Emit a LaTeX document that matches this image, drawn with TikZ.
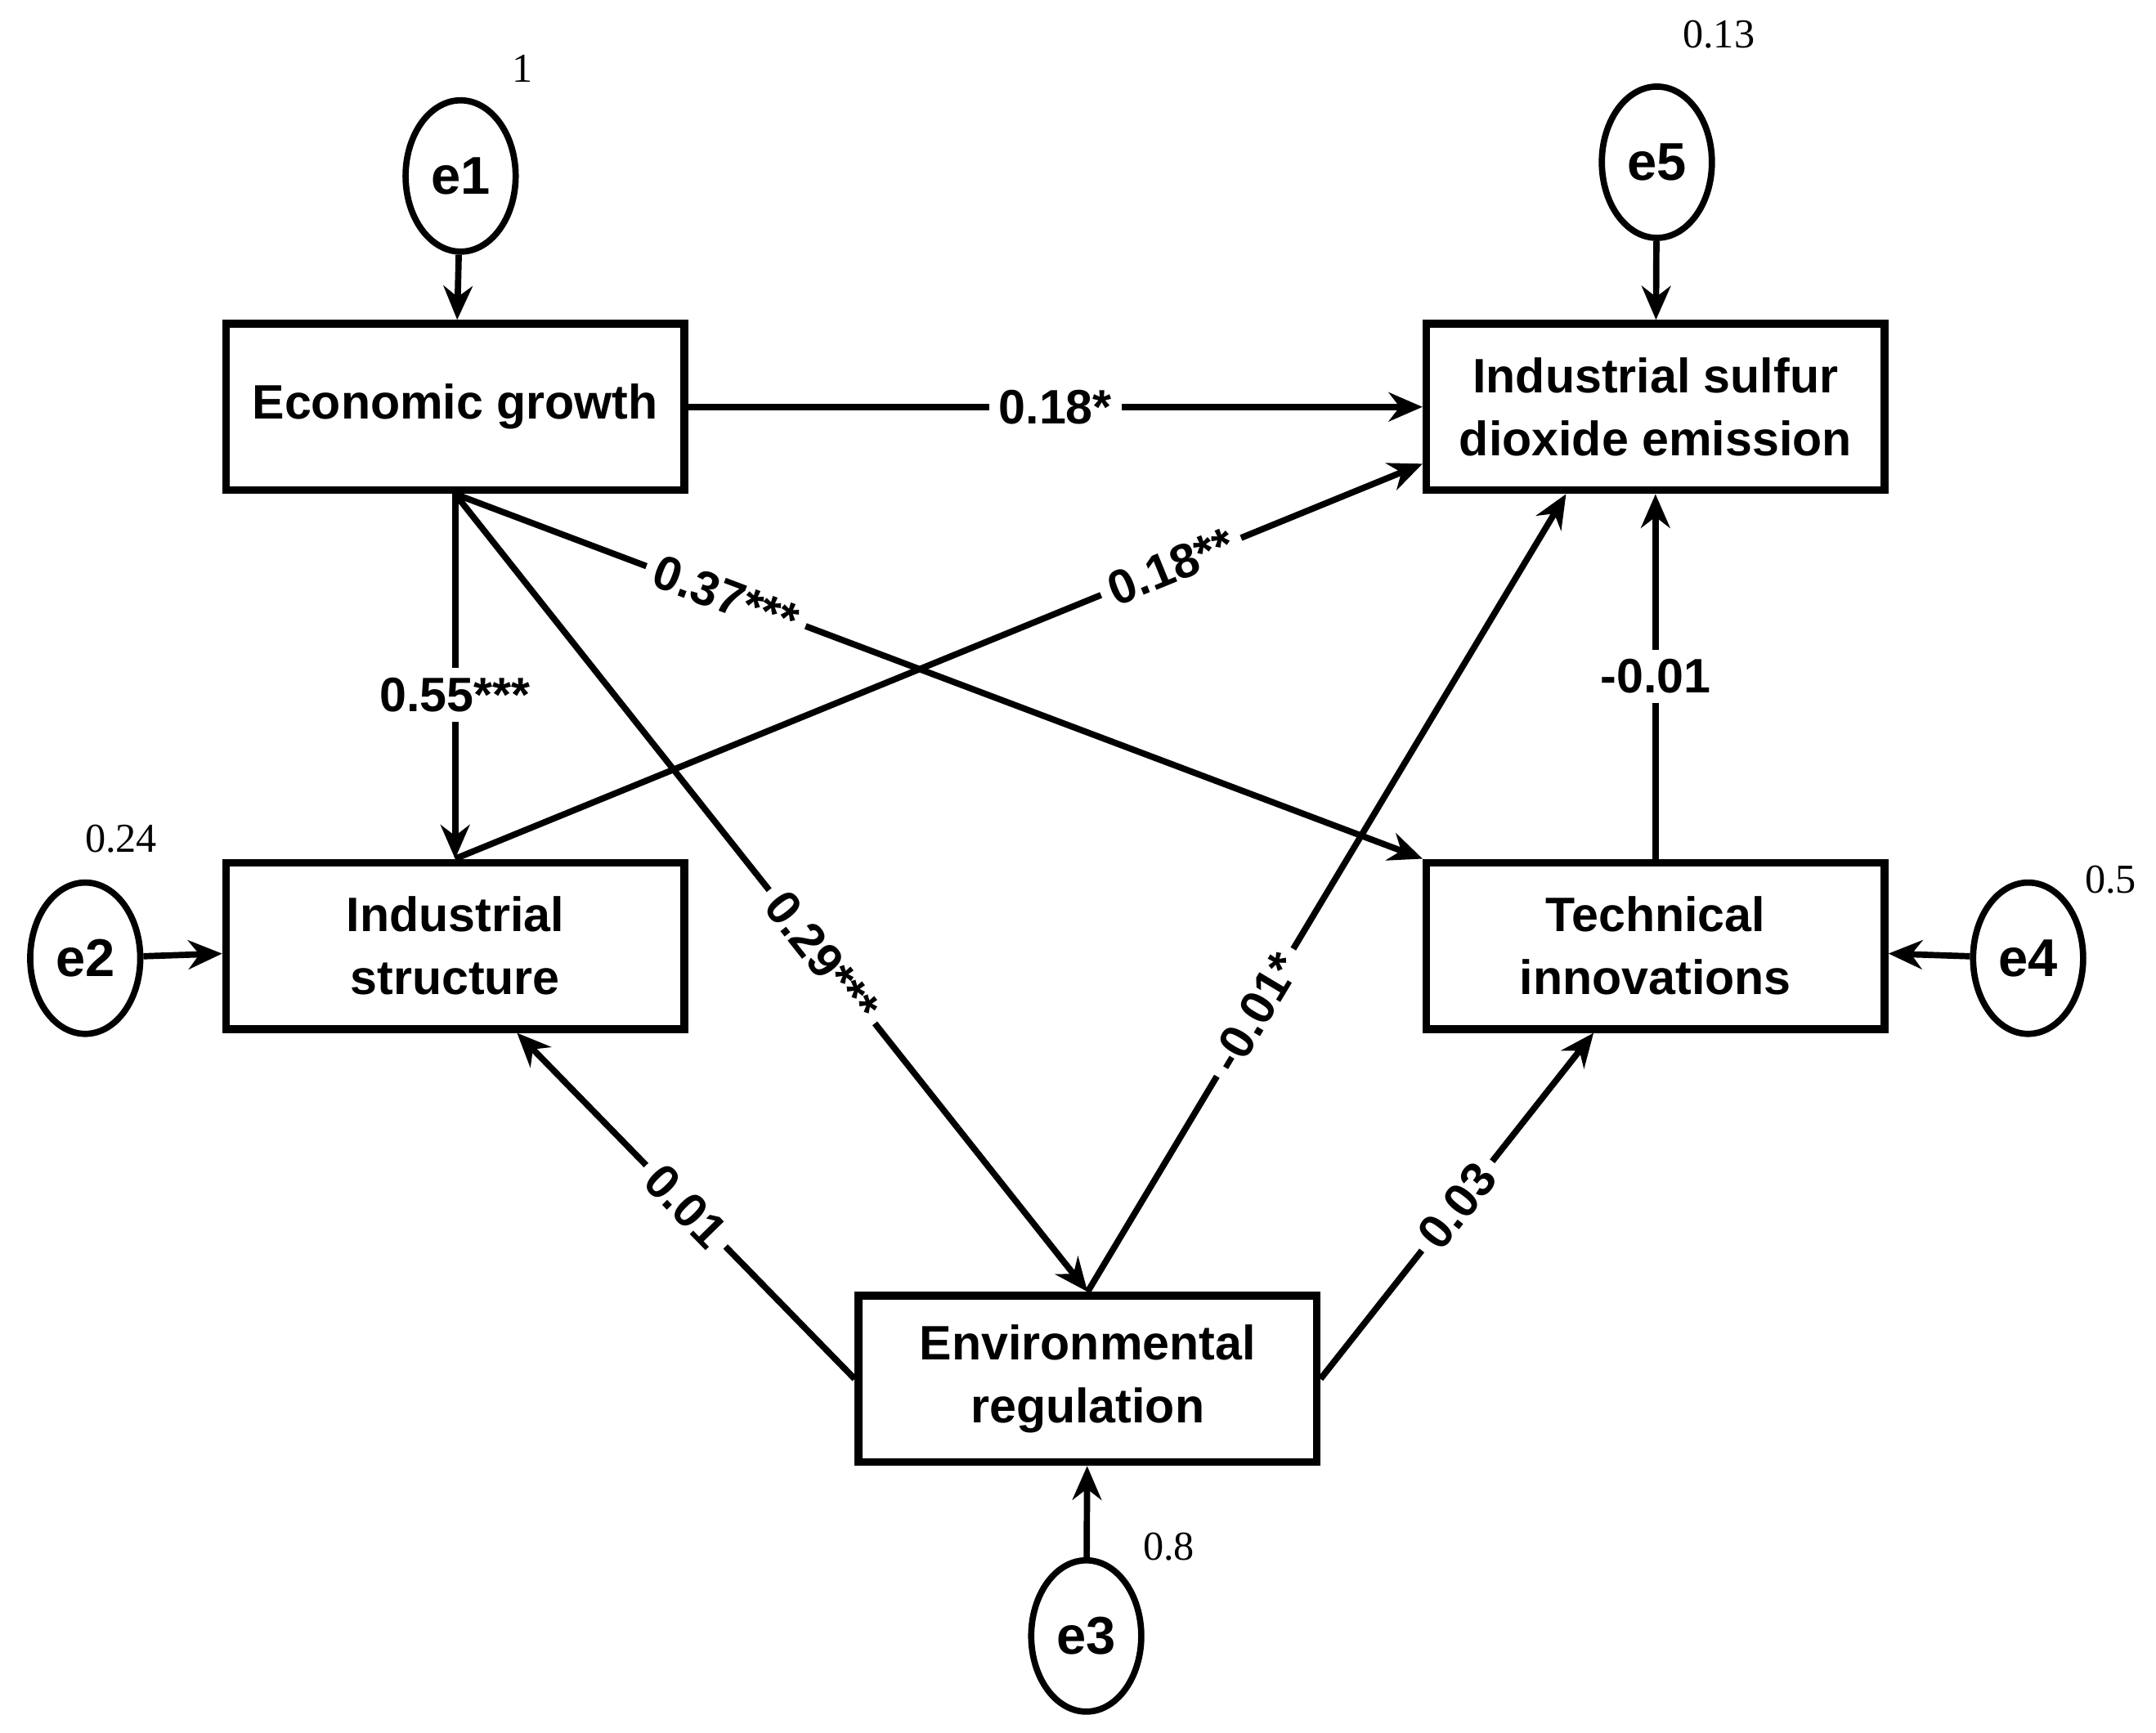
\documentclass[tikz,border=0pt]{standalone}
\usepackage{fontspec}
\setmainfont{Liberation Sans}
\newfontfamily\numfont{Liberation Serif}
\usetikzlibrary{arrows.meta,shapes.geometric}
\begin{document}
\begin{tikzpicture}[x=0.01cm,y=-0.01cm,
	box/.style={draw, line width=1.6pt, minimum width=3.33cm, minimum height=1.21cm, align=center, font=\fontsize{10}{13}\selectfont\bfseries},
	err/.style={draw, ellipse, line width=1.3pt, minimum width=0.8cm, minimum height=1.1cm, inner sep=0pt, font=\fontsize{11}{13}\selectfont\bfseries},
	path/.style={line width=1.3pt, -{Stealth[length=7pt,width=6pt]}},
	coef/.style={fill=white, inner sep=2pt, font=\fontsize{10}{13}\selectfont\bfseries},
	var/.style={font=\numfont\fontsize{8.5}{10}\selectfont}]
	\useasboundingbox (0,0) rectangle (1568,1260);

	%observed variables
	\node[box] (eg) at (331,296) {Economic growth};
	\node[box] (so) at (1204,296) {Industrial sulfur\\dioxide emission};
	\node[box] (is) at (331,688) {Industrial\\structure};
	\node[box] (ti) at (1204,688) {Technical\\innovations};
	\node[box] (er) at (791,1003) {Environmental\\regulation};

	%error terms and their variances
	\foreach \name/\px/\py/\val/\vx/\vy in {e1/335/128/1/380/50, e5/1205/118/0.13/1250/25, e2/62/697/0.24/88/610, e4/1475/697/0.5/1535/640, e3/790/1190/0.8/850/1125}
	{
		\node[err] (\name) at (\px,\py) {\name};
		\node[var] (v\name) at (\vx,\vy) {\val};
	}

	\draw[path] (e1) -- (eg);
	\draw[path] (e5) -- (so);
	\draw[path] (e2) -- (is);
	\draw[path] (e4) -- (ti);
	\draw[path] (e3) -- (er);

	%structural paths
	\draw[path] (eg.east) -- node[coef] {0.18*} (so.west |- eg.east);
	\draw[path] (eg.south) -- node[coef, pos=0.55] {0.55***} (is.north);
	\draw[path] (eg.south) -- node[coef, pos=0.28, sloped] {0.37***} (ti.north west);
	\draw[path] (eg.south) -- node[coef, pos=0.58, sloped] {0.29***} (er.north);
	\draw[path] (is.north) -- node[coef, pos=0.74, sloped] {0.18**} ([yshift=0.22cm]so.south west);
	\draw[path] (er.north) -- node[coef, pos=0.35, sloped] {-0.01*} ([xshift=-0.65cm]so.south);
	\draw[path] (ti.north) -- node[coef] {-0.01} (so.south);
	\draw[path] (er.west) -- node[coef, sloped] {0.01} ([xshift=0.45cm]is.south);
	\draw[path] (er.east) -- node[coef, sloped] {0.03} ([xshift=-0.45cm]ti.south);
\end{tikzpicture}
\end{document}
